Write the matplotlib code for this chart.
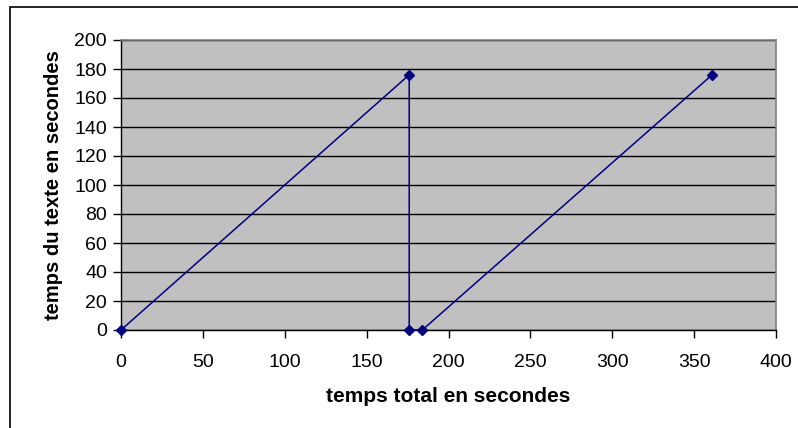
import matplotlib.pyplot as plt
from matplotlib.patches import Rectangle

# donnees
temps_total = [0, 176, 176, 184, 361]
temps_texte = [0, 176, 0, 0, 176]
x_ticks = [0, 50, 100, 150, 200, 250, 300, 350, 400]
y_ticks = [0, 20, 40, 60, 80, 100, 120, 140, 160, 180, 200]

plt.rcParams['font.family'] = ['Liberation Sans', 'DejaVu Sans']

fig = plt.figure(figsize=(7.98, 4.28), dpi=100)
ax = fig.add_axes([121 / 798, 1 - 330 / 428, 655 / 798, 290 / 428])

# cadre exterieur du graphique (coupe a droite et en bas)
fig.patches.append(Rectangle((10 / 798, -0.1), 1.2, 1 - 7 / 428 + 0.1,
                             transform=fig.transFigure, fill=False,
                             edgecolor='black', linewidth=1.2))

ax.set_facecolor('#c0c0c0')
ax.plot(temps_total, temps_texte, color='#000080', linewidth=1.1,
        marker='D', markersize=5.5, markerfacecolor='#000080',
        markeredgecolor='#000080', clip_on=False, zorder=3)

ax.set_xlim(0, 400)
ax.set_ylim(0, 200)
ax.set_xticks(x_ticks)
ax.set_yticks(y_ticks)
ax.yaxis.grid(True, color='black', linewidth=1)
ax.set_axisbelow(True)

for cote in ['top', 'right']:
    ax.spines[cote].set_color('#808080')
    ax.spines[cote].set_linewidth(1.2)
for cote in ['left', 'bottom']:
    ax.spines[cote].set_color('black')
    ax.spines[cote].set_linewidth(1)

ax.tick_params(axis='both', direction='out', length=6, width=1,
               labelsize=14, colors='black')
ax.tick_params(axis='x', pad=11)
ax.tick_params(axis='y', pad=4)

ax.set_xlabel('temps total en secondes', fontsize=15, fontweight='bold', labelpad=12)
ax.set_ylabel('temps du texte en secondes', fontsize=14.5, fontweight='bold', labelpad=8)

fig.savefig('out.png', dpi=100)
